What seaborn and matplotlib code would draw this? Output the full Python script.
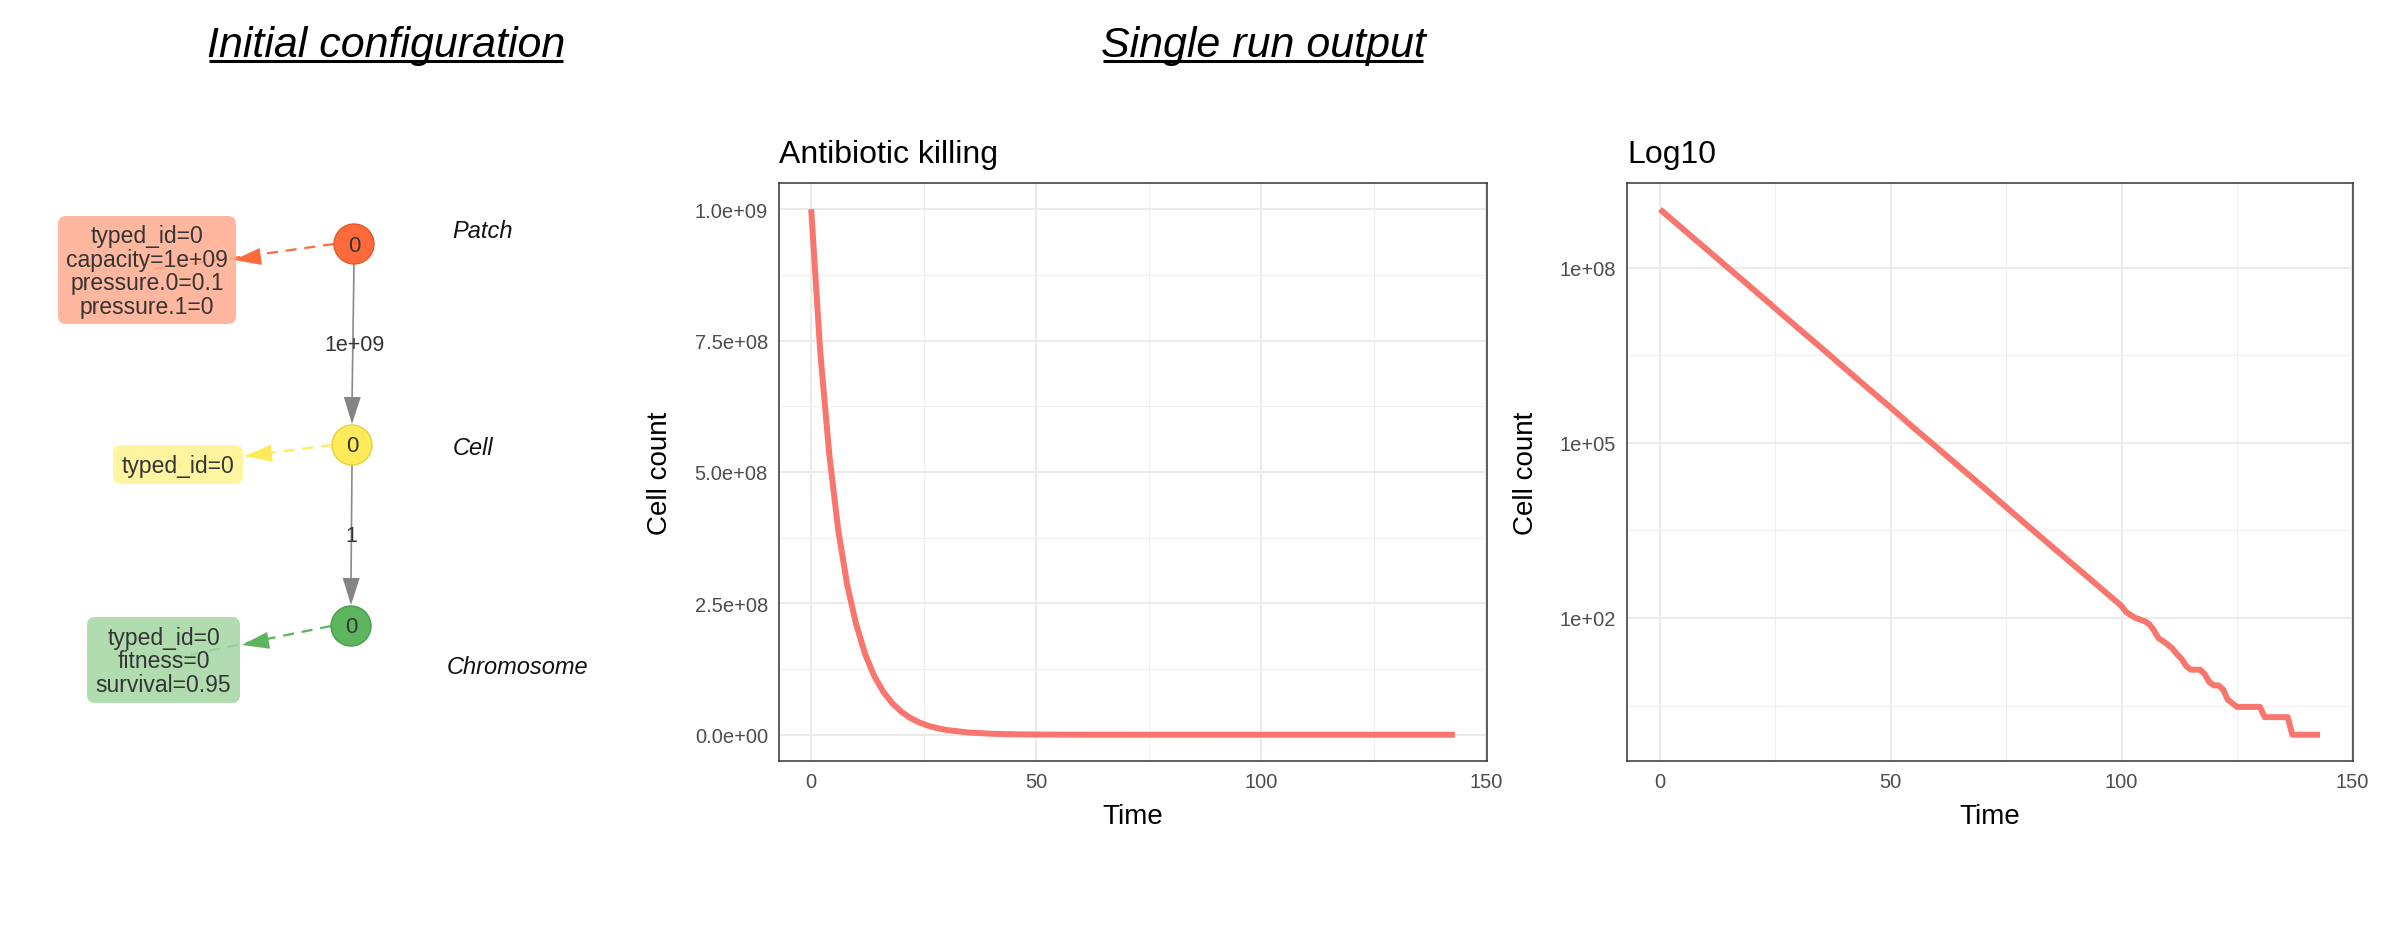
import matplotlib
matplotlib.use("Agg")
import matplotlib.pyplot as plt
from matplotlib.patches import Circle, FancyBboxPatch, Polygon
from matplotlib.ticker import NullFormatter
import pandas as pd
import seaborn as sns

# Single run output: cell count over time
time = [0, 2, 4, 6, 8, 10, 12, 14, 16, 18, 20, 22, 24, 26, 28, 30,
        35, 40, 45, 50, 55, 60, 65, 70, 75, 80, 85, 90, 95, 100,
        101, 103, 105, 106, 107, 108, 109, 110, 111, 112, 113, 114, 115,
        117, 118, 119, 120, 121, 122, 123, 125, 130, 131, 136, 137, 143]
cells = [1.0e9, 7.3e8, 5.35e8, 3.9e8, 2.85e8, 2.1e8, 1.53e8, 1.12e8, 8.2e7, 6.0e7,
         4.4e7, 3.2e7, 2.35e7, 1.7e7, 1.25e7, 9.1e6,
         4.2e6, 1.9e6, 8.7e5, 4.0e5, 1.8e5, 8.3e4, 3.8e4, 1.75e4, 7.9e3, 3.6e3,
         1.65e3, 760, 350, 160,
         126, 100, 88, 78, 62, 45, 40, 35, 30, 24, 20, 15, 13,
         13, 11, 8, 7, 7, 6, 4, 3, 3, 2, 2, 1, 1]

x_ticks = [0, 50, 100, 150]
x_minor = [25, 75, 125]
lin_ticks = [0, 2.5e8, 5.0e8, 7.5e8, 1.0e9]
lin_labels = ["0.0e+00", "2.5e+08", "5.0e+08", "7.5e+08", "1.0e+09"]
lin_minor = [1.25e8, 3.75e8, 6.25e8, 8.75e8]
log_ticks = [1e2, 1e5, 1e8]
log_labels = ["1e+02", "1e+05", "1e+08"]
log_minor = [10 ** 0.5, 10 ** 3.5, 10 ** 6.5]

# Initial configuration graph
node_types = ["Patch", "Cell", "Chromosome"]
node_ids = ["0", "0", "0"]
node_attrs = ["typed_id=0\ncapacity=1e+09\npressure.0=0.1\npressure.1=0",
              "typed_id=0",
              "typed_id=0\nfitness=0\nsurvival=0.95"]
edge_labels = ["1e+09", "1"]

df = pd.DataFrame({"Time": time, "Cell count": cells})

W, H = 2394, 928
sns.set_style("white")
plt.rcParams["font.family"] = ["Liberation Sans", "DejaVu Sans"]

fig = plt.figure(figsize=(W / 100, H / 100), dpi=100)

# overlay in pixel units for the graph and headers
ov = fig.add_axes([0, 0, 1, 1])
ov.set_xlim(0, W)
ov.set_ylim(H, 0)
ov.axis("off")

# layout of the graph (pixels)
node_xy = [(354, 245), (352, 446), (351, 627)]
node_r = 20
node_fill = ["#FF6A3D", "#FFEB5A", "#5DB65D"]
node_edge = ["#E5562B", "#E6CF3C", "#4A9E4A"]
box_fill = ["#FFAB8F", "#FFF38F", "#A3D6A3"]
box_ext = [(58, 217, 236, 325), (113, 446, 243, 485), (87, 618, 240, 704)]
arrow_tip = [(234, 261), (245, 457), (242, 646)]
type_xy = [(483, 231), (473, 449), (518, 668)]
edge_lbl_xy = [(354, 346), (351, 537)]


def arrow_head(tip, frm, color, length=27, width=17):
    dx, dy = tip[0] - frm[0], tip[1] - frm[1]
    d = (dx ** 2 + dy ** 2) ** 0.5
    ux, uy = dx / d, dy / d
    bx, by = tip[0] - ux * length, tip[1] - uy * length
    px, py = -uy * width / 2, ux * width / 2
    ov.add_patch(Polygon([tip, (bx + px, by + py), (bx - px, by - py)],
                         closed=True, color=color, zorder=5, lw=0))


for i in range(3):
    x0, y0, x1, y1 = box_ext[i]
    cx, cy = (x0 + x1) / 2, (y0 + y1) / 2
    nx, ny = node_xy[i]
    # dashed attribute edge
    ov.plot([nx - node_r, cx], [ny, cy], color=node_fill[i], lw=1.6,
            ls=(0, (5, 3.5)), zorder=2)
    arrow_head(arrow_tip[i], (nx, ny), node_fill[i])
    ov.add_patch(FancyBboxPatch((x0 + 8, y0 + 8), x1 - x0 - 16, y1 - y0 - 16,
                                boxstyle="round,pad=8", fc=box_fill[i], ec="none",
                                alpha=0.85, zorder=3))
    ov.text(cx, cy + 1, node_attrs[i], ha="center", va="center", fontsize=16.5,
            color="#343434", linespacing=1.02, zorder=6)
    ov.add_patch(Circle((nx, ny), node_r, fc=node_fill[i], ec=node_edge[i], lw=1, zorder=4))
    ov.text(nx, ny + 1, node_ids[i], ha="center", va="center", fontsize=16,
            color="#343434", zorder=6)
    ov.text(type_xy[i][0], type_xy[i][1], node_types[i], ha="center", va="center",
            fontsize=17, style="italic", color="#111111")

# structural edges
for i in range(2):
    (ax_, ay_), (bx_, by_) = node_xy[i], node_xy[i + 1]
    tip = (bx_, by_ - node_r - 1)
    ov.plot([ax_, bx_], [ay_ + node_r, tip[1] - 20], color="#8A8A8A", lw=1.2, zorder=2)
    arrow_head(tip, (ax_, ay_), "#848484")
    ov.text(edge_lbl_xy[i][0], edge_lbl_xy[i][1], edge_labels[i], ha="center", va="center",
            fontsize=15.5, color="#343434", zorder=6)

# section headers
renderer = fig.canvas.get_renderer()
for label, cx in [("Initial configuration", 386), ("Single run output", 1263)]:
    t = ov.text(cx, 57, label, ha="center", va="baseline", fontsize=31,
                style="italic", color="black")
    bb = t.get_window_extent(renderer)
    ov.plot([bb.x0 + 2, bb.x1 - 2], [62, 62], color="black", lw=2.2,
            solid_capstyle="butt")

# time series panels
line_kw = dict(color="#F8766D", linewidth=4.3, solid_capstyle="butt")


def style_panel(ax, title):
    ax.set_xlim(-7.15, 150.15)
    ax.set_xticks(x_ticks)
    ax.set_xticks(x_minor, minor=True)
    ax.xaxis.set_minor_formatter(NullFormatter())
    ax.grid(True, which="major", color="#EBEBEB", lw=1.5)
    ax.grid(True, which="minor", color="#F0F0F0", lw=0.8)
    ax.set_axisbelow(True)
    for s in ax.spines.values():
        s.set_color("#333333")
        s.set_linewidth(1.1)
    ax.tick_params(which="major", length=5, width=1.1, color="#333333",
                   labelsize=14.5, labelcolor="#4D4D4D", pad=3)
    ax.tick_params(which="minor", length=0)
    ax.set_title(title, loc="left", fontsize=23, pad=15, color="black")
    ax.set_xlabel("Time", fontsize=20, color="black")
    ax.set_ylabel("Cell count", fontsize=20, color="black")
    ax.xaxis.label.set_va("center")
    ax.yaxis.label.set_va("center")


ax1 = fig.add_axes([779 / W, (H - 762) / H, 708 / W, 578 / H])
sns.lineplot(data=df, x="Time", y="Cell count", ax=ax1, **line_kw)
ax1.set_ylim(-0.05e9, 1.05e9)
ax1.set_yticks(lin_ticks, labels=lin_labels)
ax1.set_yticks(lin_minor, minor=True)
ax1.yaxis.set_minor_formatter(NullFormatter())
style_panel(ax1, "Antibiotic killing")
ax1.xaxis.set_label_coords(0.5, -0.095)
ax1.yaxis.set_label_coords((660 - 779) / 708, 0.5)

ax2 = fig.add_axes([1627 / W, (H - 762) / H, 726 / W, 578 / H])
ax2.set_yscale("log")
sns.lineplot(data=df, x="Time", y="Cell count", ax=ax2, **line_kw)
ax2.set_ylim(10 ** -0.45, 10 ** 9.45)
ax2.set_yticks(log_ticks, labels=log_labels)
ax2.set_yticks(log_minor, minor=True)
ax2.yaxis.set_minor_formatter(NullFormatter())
style_panel(ax2, "Log10")
ax2.xaxis.set_label_coords(0.5, -0.095)
ax2.yaxis.set_label_coords((1526 - 1627) / 726, 0.5)

fig.savefig("out.png", dpi=100, facecolor="white")
